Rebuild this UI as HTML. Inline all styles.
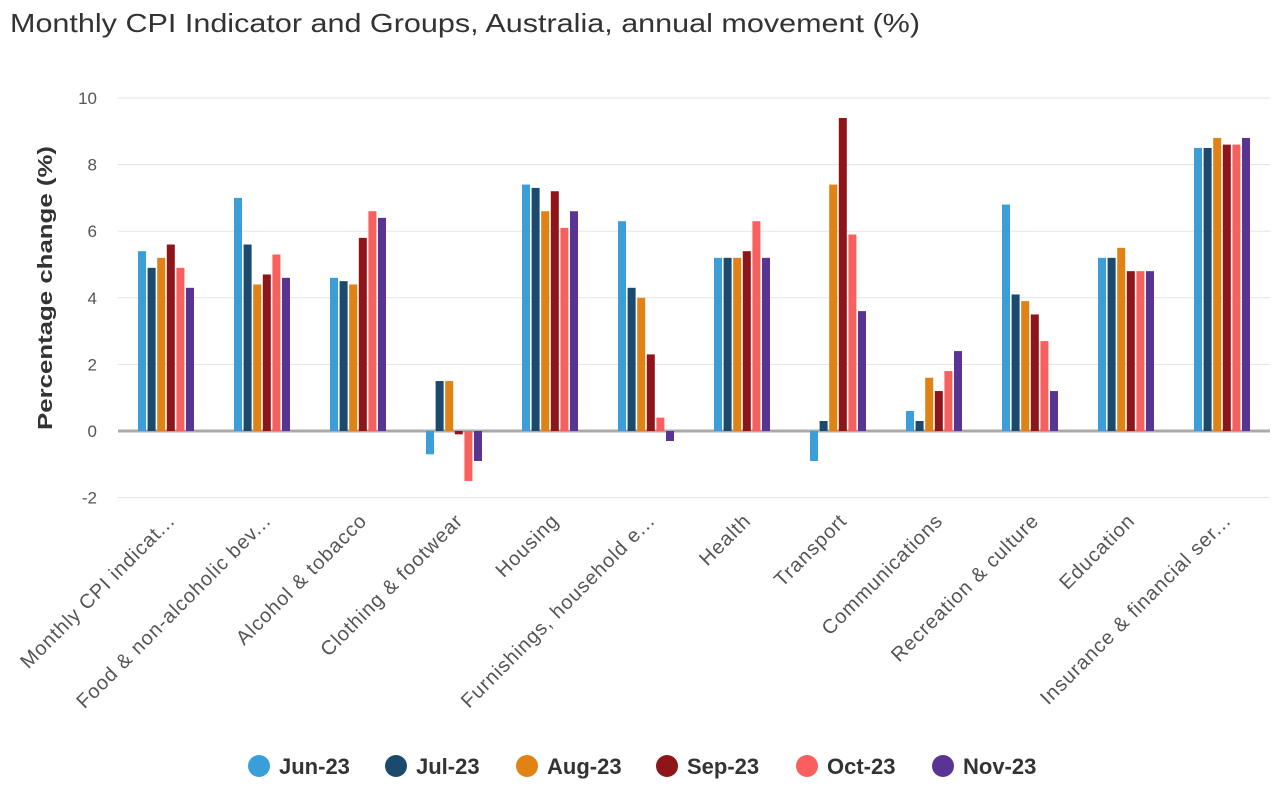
<!DOCTYPE html>
<html><head><meta charset="utf-8"><style>
body{margin:0;background:#fff;font-family:"Liberation Sans",sans-serif;}
svg text{font-family:"Liberation Sans",sans-serif;}
</style></head><body>
<svg id="chart" width="1273" height="792" xmlns="http://www.w3.org/2000/svg">
<text x="10" y="32" font-size="26" fill="#333" textLength="910" lengthAdjust="spacingAndGlyphs">Monthly CPI Indicator and Groups, Australia, annual movement (%)</text>
<text transform="translate(52,288) rotate(-90)" text-anchor="middle" font-size="20" font-weight="bold" fill="#333" textLength="284" lengthAdjust="spacingAndGlyphs">Percentage change (%)</text>
<g id="grid"></g><g id="bars"></g><g id="xlabels"></g><g id="legend"></g>
</svg>
<script>
const categories=["Monthly CPI indicat...","Food & non-alcoholic bev...","Alcohol & tobacco","Clothing & footwear","Housing","Furnishings, household e...","Health","Transport","Communications","Recreation & culture","Education","Insurance & financial ser..."];
const seriesNames=["Jun-23","Jul-23","Aug-23","Sep-23","Oct-23","Nov-23"];
const jun=[5.4,7.0,4.6,-0.7,7.4,6.3,5.2,-0.9,0.6,6.8,5.2,8.5];
const jul=[4.9,5.6,4.5,1.5,7.3,4.3,5.2,0.3,0.3,4.1,5.2,8.5];
const aug=[5.2,4.4,4.4,1.5,6.6,4.0,5.2,7.4,1.6,3.9,5.5,8.8];
const sep=[5.6,4.7,5.8,-0.1,7.2,2.3,5.4,9.4,1.2,3.5,4.8,8.6];
const oct=[4.9,5.3,6.6,-1.5,6.1,0.4,6.3,5.9,1.8,2.7,4.8,8.6];
const nov=[4.3,4.6,6.4,-0.9,6.6,-0.3,5.2,3.6,2.4,1.2,4.8,8.8];
const yTicks=[-2,0,2,4,6,8,10];
const series=[jun,jul,aug,sep,oct,nov];
const colors=["#3a9fd8","#1a4a6e","#e08214","#8e1518","#f8605f","#5a3494"];
const NS="http://www.w3.org/2000/svg";
const plotL=118,plotR=1270,catW=(plotR-plotL)/categories.length;
function y(v){return 431-v*33.3;}
function mk(t,a,p){const e=document.createElementNS(NS,t);for(const k in a)e.setAttribute(k,a[k]);p.appendChild(e);return e;}
const grid=document.getElementById('grid');
yTicks.forEach(t=>{
  if(t!==0){const l=mk('line',{x1:plotL,x2:plotR,y1:y(t),y2:y(t),stroke:'#e3e3e3','stroke-width':1},grid);
  
  }
  const tx=mk('text',{x:97,y:y(t)+6,'text-anchor':'end','font-size':17,fill:'#555'},grid);tx.textContent=t;
  
  
});
const zl=mk('line',{x1:plotL,x2:plotR,y1:y(0),y2:y(0),stroke:'#aaa','stroke-width':3},grid);


const bars=document.getElementById('bars');
const pitch=9.6,bw=8;
categories.forEach((c,i)=>{
  const cx=plotL+catW*(i+0.5);
  series.forEach((s,j)=>{
    const v=s[i];const x=cx-3*pitch+j*pitch+0.8;
    const r=mk('rect',{x:x,y:Math.min(y(v),y(0)),width:bw,height:Math.max(Math.abs(y(v)-y(0)),0.8),fill:colors[j]},bars);
    
    
  });
  const t=mk('text',{transform:`translate(${cx+10},522) rotate(-45)`,'text-anchor':'end','font-size':20,'letter-spacing':'0.9',fill:'#555'},document.getElementById('xlabels'));
  t.textContent=c;
  
  
});
const lg=document.getElementById('legend');
const lx=[259,396,527,667,807,943];
seriesNames.forEach((n,j)=>{
  const g=mk('g',{},lg);
  
  
  mk('circle',{cx:lx[j],cy:766,r:11,fill:colors[j]},g);
  const t=mk('text',{x:lx[j]+20,y:774,'font-size':22,'font-weight':'bold',fill:'#333'},g);t.textContent=n;
});
</script>
</body></html>
